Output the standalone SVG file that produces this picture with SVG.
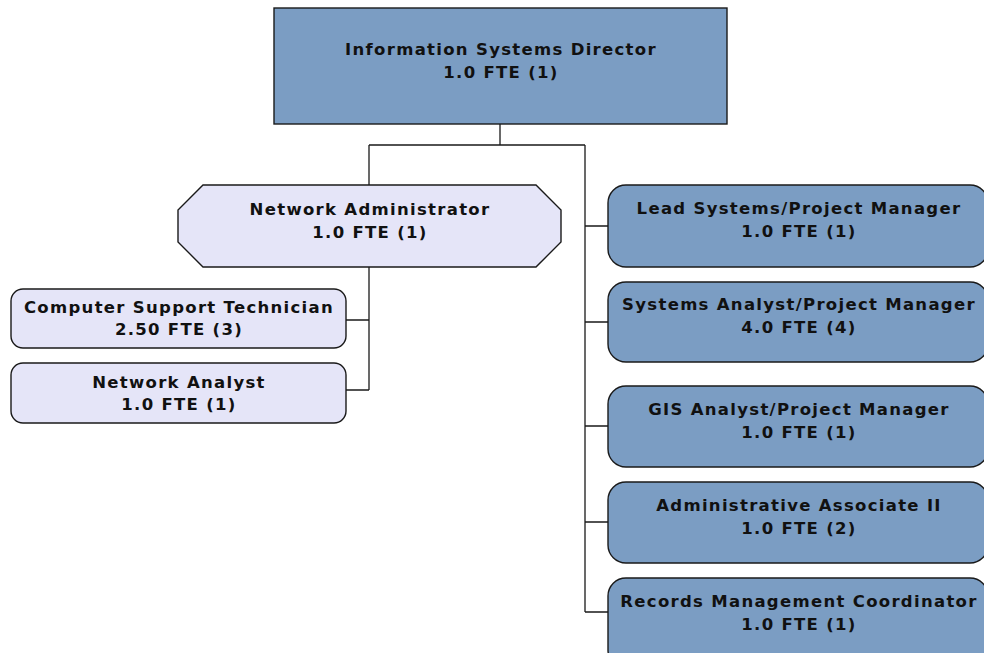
<svg xmlns="http://www.w3.org/2000/svg" width="984" height="653" viewBox="0 0 984 653">
<style>
.blue{fill:#7b9dc3;stroke:#1a1a1a;stroke-width:1.4}
.lav{fill:#e5e5f8;stroke:#1a1a1a;stroke-width:1.4}
.t{font-family:"DejaVu Sans",Verdana,sans-serif;font-weight:bold;font-size:16.5px;letter-spacing:1.3px;fill:#111;text-anchor:middle}
.c{fill:none;stroke:#1a1a1a;stroke-width:1.3}
</style>
<rect width="984" height="653" fill="#fff"/>
<g id="connectors">
<path class="c" d="M500,124V145M369,145H585M369,145V185M585,145V612M369,267V390M346,320H369M346,390H369M585,226H608M585,322H608M585,426H608M585,522H608M585,612H608"/>
</g>
<g id="director">
<rect class="blue" x="274" y="8" width="453" height="116"/>
<text class="t" x="501" y="55">Information Systems Director</text>
<text class="t" x="501" y="78">1.0 FTE (1)</text>
</g>
<g id="netadmin">
<polygon class="lav" points="203,185 536,185 561,210 561,242 536,267 203,267 178,242 178,210"/>
<text class="t" x="370" y="215">Network Administrator</text>
<text class="t" x="370" y="238">1.0 FTE (1)</text>
</g>
<g id="cst">
<rect class="lav" x="11" y="289" width="335" height="59" rx="12"/>
<text class="t" x="179" y="313">Computer Support Technician</text>
<text class="t" x="179" y="335">2.50 FTE (3)</text>
</g>
<g id="netanalyst">
<rect class="lav" x="11" y="363" width="335" height="60" rx="12"/>
<text class="t" x="179" y="388">Network Analyst</text>
<text class="t" x="179" y="410">1.0 FTE (1)</text>
</g>
<g id="lead">
<rect class="blue" x="608" y="185" width="380" height="82" rx="18"/>
<text class="t" x="799" y="214">Lead Systems/Project Manager</text>
<text class="t" x="799" y="237">1.0 FTE (1)</text>
</g>
<g id="sysanalyst">
<rect class="blue" x="608" y="282" width="380" height="80" rx="18"/>
<text class="t" x="799" y="310">Systems Analyst/Project Manager</text>
<text class="t" x="799" y="333">4.0 FTE (4)</text>
</g>
<g id="gis">
<rect class="blue" x="608" y="386" width="380" height="81" rx="18"/>
<text class="t" x="799" y="415">GIS Analyst/Project Manager</text>
<text class="t" x="799" y="438">1.0 FTE (1)</text>
</g>
<g id="admin">
<rect class="blue" x="608" y="482" width="380" height="81" rx="18"/>
<text class="t" x="799" y="511">Administrative Associate II</text>
<text class="t" x="799" y="534">1.0 FTE (2)</text>
</g>
<g id="records">
<rect class="blue" x="608" y="578" width="380" height="90" rx="18"/>
<text class="t" x="799" y="607">Records Management Coordinator</text>
<text class="t" x="799" y="630">1.0 FTE (1)</text>
</g>
</svg>
